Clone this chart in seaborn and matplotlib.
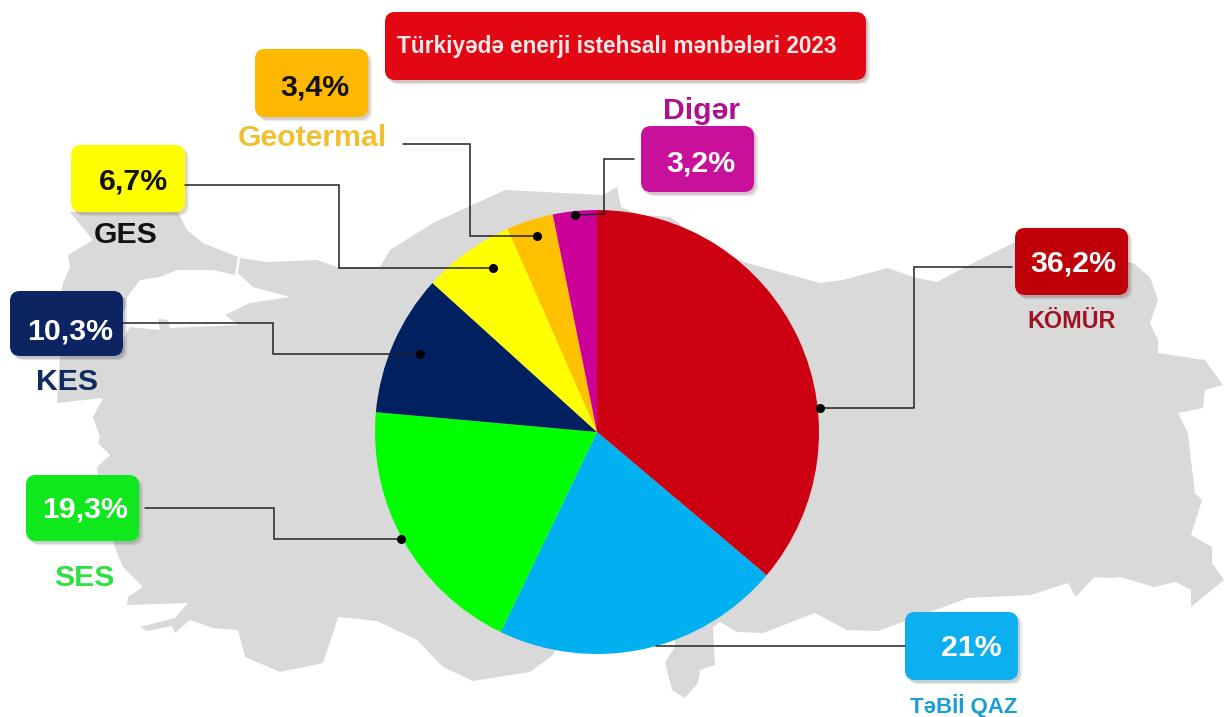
import matplotlib
matplotlib.use('Agg')
import matplotlib.pyplot as plt
import matplotlib.patheffects as pe
from matplotlib.patches import FancyBboxPatch, Polygon
import seaborn as sns

# data
sources = ['KÖMÜR', 'TəBİİ QAZ', 'SES', 'KES', 'GES', 'Geotermal', 'Digər']
shares = [36.2, 21, 19.3, 10.3, 6.7, 3.4, 3.2]
share_labels = ['36,2%', '21%', '19,3%', '10,3%', '6,7%', '3,4%', '3,2%']
slice_colors = ['#cc0010', '#00b0f0', '#00ff00', '#002060', '#ffff00', '#ffc000', '#cc0099']
title_text = 'Türkiyədə enerji istehsalı mənbələri 2023'

# layout in picture pixels, same order as sources
box_rects = [(1015, 228, 1128, 295), (905, 612, 1018, 680), (26, 475, 139, 541), (10, 291, 123, 356),
             (71, 145, 185, 212), (255, 49, 368, 117), (641, 126, 754, 192)]
box_colors = ['#c00008', '#0cb0f0', '#0ee81c', '#0c2461', '#ffff00', '#ffb800', '#c8109a']
value_pos = [(1073, 263), (971, 648), (85, 509), (70, 331), (133, 181), (315, 87), (701, 163)]
value_colors = ['white', 'white', 'white', 'white', '#111111', '#111111', 'white']
name_pos = [(1072, 321), (964, 706), (84, 578), (67, 382), (126, 235), (312, 138), (702, 111)]
name_colors = ['#a01222', '#1a9fd0', '#2ee040', '#0f2b60', '#111111', '#f0c030', '#b0108c']
name_sizes = [16.8, 16.0, 21.8, 21.8, 21.8, 21.8, 21.8]
leaders = [
    [(820, 408), (914, 408), (914, 267), (1012, 267)],
    [(656, 646), (905, 646)],
    [(401, 539), (274, 539), (274, 508), (145, 508)],
    [(420, 354), (273, 354), (273, 323), (123, 323)],
    [(493, 268), (339, 268), (339, 185), (185, 185)],
    [(537, 236), (470, 236), (470, 144), (403, 144)],
    [(575, 215), (604, 214), (604, 159), (634, 159)],
]

# background map outline
anatolia = [(240, 258), (238, 273), (253, 287), (290, 297), (250, 303), (225, 315), (238, 325), (170, 328),
            (168, 320), (158, 319), (160, 330), (130, 327), (123, 340), (60, 357), (57, 403), (103, 398),
            (93, 417), (100, 437), (98, 443), (110, 455), (97, 467), (100, 500), (117, 553), (123, 567),
            (143, 587), (128, 597), (127, 605), (188, 603), (175, 618), (140, 627), (147, 631), (172, 626),
            (175, 633), (190, 620), (213, 628), (238, 630), (245, 657), (280, 672), (323, 663), (335, 627),
            (338, 617), (377, 621), (417, 640), (443, 667), (473, 681), (530, 672), (553, 655), (560, 640),
            (675, 640), (675, 647), (665, 662), (672, 690), (685, 698), (698, 683), (700, 670), (715, 665),
            (713, 627), (720, 622), (737, 632), (763, 633),
            (815, 613), (847, 630), (878, 631), (908, 620), (968, 598), (1031, 595), (1068, 583), (1076, 597),
            (1094, 577), (1109, 578), (1120, 577), (1154, 587), (1176, 582), (1191, 590), (1191, 607), (1224, 580),
            (1212, 563), (1212, 547), (1191, 535), (1202, 500), (1195, 493), (1191, 460), (1188, 433), (1178, 413),
            (1203, 408), (1205, 390), (1223, 385), (1205, 360), (1158, 353), (1158, 340), (1150, 323), (1158, 300),
            (1150, 277), (1133, 263), (1013, 243), (973, 263), (937, 282), (913, 277), (888, 268), (843, 280),
            (820, 283), (780, 272), (747, 263), (690, 240), (680, 224), (670, 217), (640, 215), (621, 207),
            (617, 187), (603, 195), (505, 190),
            (433, 223), (390, 250), (380, 267), (337, 267), (317, 260), (267, 262)]
thrace = [(177, 210), (187, 230), (203, 243), (238, 257), (235, 275), (213, 270), (177, 270), (160, 277),
          (140, 280), (127, 297), (125, 310), (70, 345), (60, 300), (63, 283), (70, 267), (68, 255), (93, 240),
          (70, 212)]

W, H = 1224, 717
sns.set_theme(style='white')
plt.rcParams['font.family'] = ['Liberation Sans', 'DejaVu Sans']

fig = plt.figure(figsize=(W / 100, H / 100), dpi=100, facecolor='white')


def pixel_axes(z):
    ax = fig.add_axes([0, 0, 1, 1], zorder=z)
    ax.set_xlim(0, W)
    ax.set_ylim(H, 0)
    ax.axis('off')
    return ax


back = pixel_axes(1)
back.add_patch(Polygon(anatolia, closed=True, fc='#d9d9d9', ec='none'))
back.add_patch(Polygon(thrace, closed=True, fc='#d9d9d9', ec='none'))

# pie
cx, cy, r = 597, 432, 222
pie_ax = fig.add_axes([(cx - r) / W, 1 - (cy + r) / H, 2 * r / W, 2 * r / H], zorder=2)
pie_ax.pie(shares, colors=sns.color_palette(slice_colors), startangle=90, counterclock=False, radius=1,
           wedgeprops={'linewidth': 0, 'edgecolor': 'none'})
pie_ax.set_xlim(-1, 1)
pie_ax.set_ylim(-1, 1)

top = pixel_axes(3)
shadow = [pe.SimplePatchShadow(offset=(3, -3), alpha=0.1), pe.SimplePatchShadow(offset=(1.5, -2), alpha=0.15),
          pe.Normal()]


def card(rect, color):
    x0, y0, x1, y1 = rect
    p = FancyBboxPatch((x0 + 10, y0 + 10), x1 - x0 - 20, y1 - y0 - 20, boxstyle='round,pad=10,rounding_size=10',
                       fc=color, ec='none')
    p.set_path_effects(shadow)
    top.add_patch(p)


for line in leaders:
    top.plot([p[0] for p in line], [p[1] for p in line], color='#222222', lw=1.1, solid_joinstyle='miter')
    if len(line) > 2:
        top.plot(line[0][0], line[0][1], 'o', color='black', ms=5.5)

card((385, 12, 866, 80), '#e30613')
top.text(617, 47, title_text, color='#f4e8e8', fontsize=16.3, fontweight='bold', ha='center', va='center')

for i in range(len(sources)):
    card(box_rects[i], box_colors[i])
    top.text(value_pos[i][0], value_pos[i][1], share_labels[i], color=value_colors[i], fontsize=21.8,
             fontweight='bold', ha='center', va='center')
    top.text(name_pos[i][0], name_pos[i][1], sources[i], color=name_colors[i], fontsize=name_sizes[i],
             fontweight='bold', ha='center', va='center')

fig.savefig('out.png', dpi=100, facecolor='white')
